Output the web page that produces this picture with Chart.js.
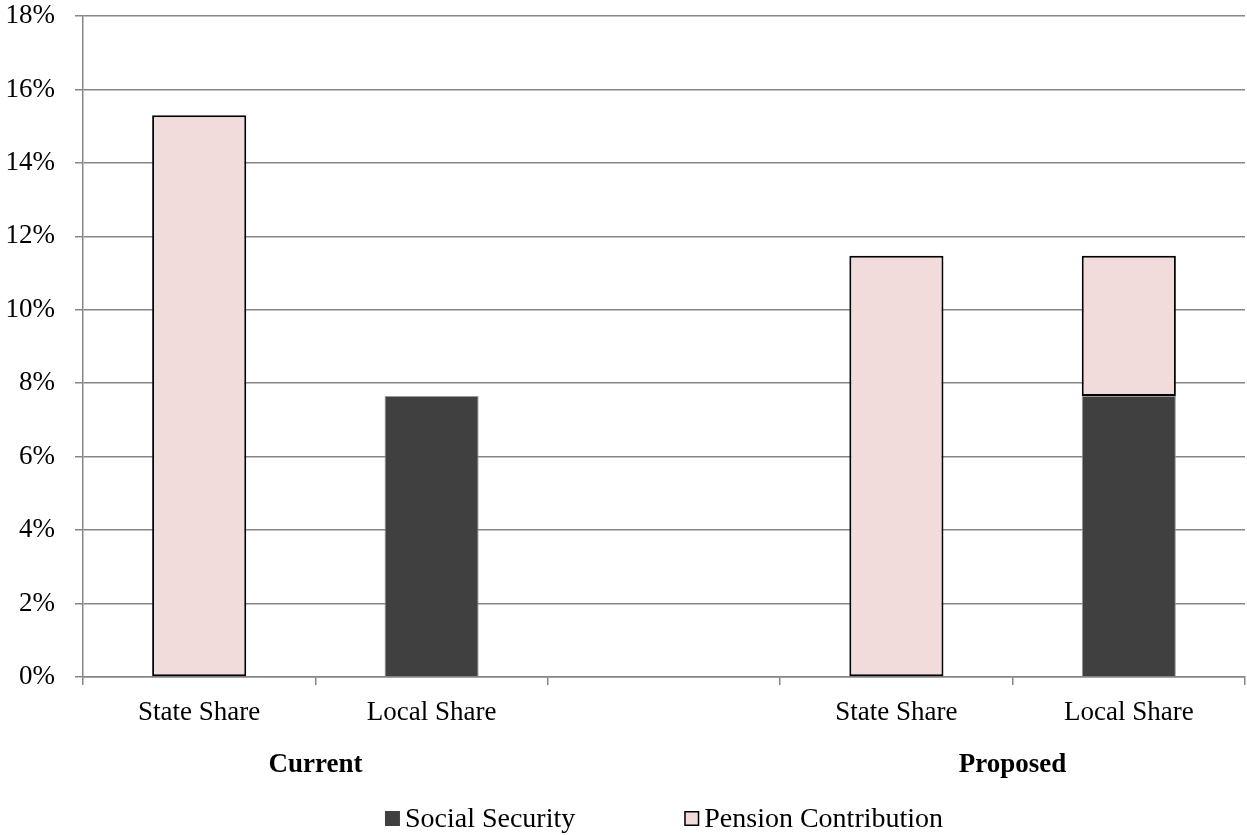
<!DOCTYPE html>
<html>
<head>
<meta charset="utf-8">
<title>Employer contribution shares</title>
<script src="https://cdn.jsdelivr.net/npm/chart.js@4.4.1/dist/chart.umd.min.js"></script>
<style>
  body { margin: 0; background: #ffffff; }
  #wrap { width: 1247px; height: 835px; position: relative; }
</style>
</head>
<body>
<div id="wrap"><canvas id="chart"></canvas></div>
<script>
// Categories (empty slot separates the two groups)
const categories = ["State Share", "Local Share", "", "State Share", "Local Share"];
const groupNames = ["Current", "Proposed"];
const groupSpans = [[0, 1], [3, 4]];

// Series values, in percent
const socialSecurity = [null, 7.65, null, null, 7.65];
const pensionContribution = [15.3, null, null, 11.47, 3.82];

// Y axis ticks
const yTicks = [0, 2, 4, 6, 8, 10, 12, 14, 16, 18];

const FONT = '"Liberation Serif", "Times New Roman", serif';
const GRID = "#868686";

// Group labels under the category labels + legend at the bottom
const groupAndLegend = {
  id: "groupAndLegend",
  afterDraw(chart) {
    const ctx = chart.ctx;
    const x = chart.scales.x;
    const area = chart.chartArea;
    ctx.save();
    ctx.fillStyle = "#000";
    ctx.textAlign = "center";
    ctx.textBaseline = "alphabetic";
    ctx.font = "bold 27px " + FONT;
    groupNames.forEach((name, i) => {
      const [a, b] = groupSpans[i];
      const cx = (x.getPixelForValue(a) + x.getPixelForValue(b)) / 2;
      ctx.fillText(name, cx, area.bottom + 95);
    });

    // legend
    ctx.font = "28px " + FONT;
    ctx.textAlign = "left";
    const box = 15, gap = 5, itemGap = 109;
    const items = chart.data.datasets.map(ds => ({
      label: ds.label,
      fill: ds.backgroundColor,
      stroke: ds.legendBorder,
      w: box + gap + ctx.measureText(ds.label).width
    }));
    const total = items.reduce((s, it) => s + it.w, 0) + itemGap * (items.length - 1);
    let lx = (area.left + area.right) / 2 - total / 2;
    const base = area.bottom + 150;
    items.forEach(it => {
      ctx.fillStyle = it.fill;
      ctx.fillRect(lx, base - 16, box, box);
      if (it.stroke) {
        ctx.strokeStyle = it.stroke;
        ctx.lineWidth = 1.5;
        ctx.strokeRect(lx + 0.75, base - 15.25, box - 1.5, box - 1.5);
      }
      ctx.fillStyle = "#000";
      ctx.fillText(it.label, lx + box + gap, base);
      lx += it.w + itemGap;
    });
    ctx.restore();
  }
};

new Chart(document.getElementById("chart"), {
  type: "bar",
  data: {
    labels: categories,
    datasets: [
      {
        label: "Social Security",
        data: socialSecurity,
        backgroundColor: "#404040",
        borderColor: "#9a9a9a",
        borderWidth: 1,
        borderSkipped: "start",
        legendBorder: null,
        barPercentage: 0.405,
        categoryPercentage: 1
      },
      {
        label: "Pension Contribution",
        data: pensionContribution,
        backgroundColor: "#F2DCDB",
        borderColor: "#000000",
        borderWidth: 2,
        borderSkipped: false,
        legendBorder: "#000000",
        barPercentage: 0.405,
        categoryPercentage: 1
      }
    ]
  },
  options: {
    responsive: true,
    maintainAspectRatio: false,
    animation: false,
    layout: { padding: { top: 16, right: 2, left: 0, bottom: 0 } },
    plugins: {
      legend: { display: false },
      tooltip: { enabled: false }
    },
    scales: {
      x: {
        stacked: true,
        grid: {
          offset: true,
          drawOnChartArea: false,
          color: GRID,
          lineWidth: 1.5,
          tickLength: 8
        },
        border: { color: GRID, width: 1.5 },
        ticks: {
          autoSkip: false,
          maxRotation: 0,
          padding: 12,
          color: "#000",
          font: { family: FONT, size: 27 }
        },
        afterFit: (scale) => { scale.height = 158; }
      },
      y: {
        stacked: true,
        min: 0,
        max: 18,
        afterBuildTicks: (scale) => { scale.ticks = yTicks.map(v => ({ value: v })); },
        grid: { color: GRID, lineWidth: 1.5, tickLength: 8 },
        border: { color: GRID, width: 1.5 },
        ticks: {
          padding: 20,
          color: "#000",
          font: { family: FONT, size: 27 },
          callback: (v) => v + "%"
        },
        afterFit: (scale) => {
          scale.width = 83;
          scale.paddingTop = 0;
          scale.paddingBottom = 0;
        }
      }
    }
  },
  plugins: [groupAndLegend]
});
</script>
</body>
</html>
